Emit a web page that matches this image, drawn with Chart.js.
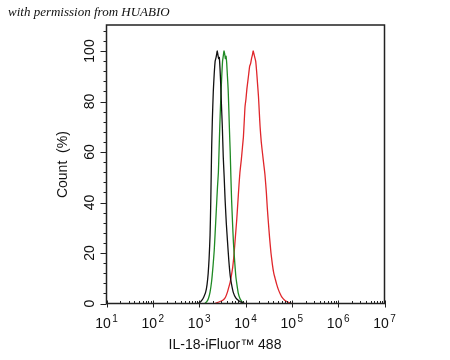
<!DOCTYPE html>
<html>
<head>
<meta charset="utf-8">
<script src="https://cdn.jsdelivr.net/npm/chart.js@4.4.1/dist/chart.umd.min.js"></script>
<style>
  html, body { margin: 0; padding: 0; background: #fff; }
  #wrap { position: relative; width: 450px; height: 360px; }
  #note {
    position: absolute; left: 8px; top: 4px;
    font: italic 13px "Liberation Serif", "DejaVu Serif", serif;
    color: #111;
  }
</style>
</head>
<body>
<div id="wrap">
  <canvas id="chart" width="450" height="360"></canvas>
  <div id="note">with permission from HUABIO</div>
</div>
<script>
// log10 of fluorescence intensity, count in %
const blackLog = [2.97, 3.02, 3.06, 3.10, 3.14, 3.17, 3.195, 3.215, 3.235, 3.25, 3.26, 3.27, 3.285, 3.305, 3.325, 3.345, 3.365, 3.38, 3.39, 3.405, 3.42, 3.435, 3.45, 3.465, 3.48, 3.50, 3.52, 3.54, 3.56, 3.585, 3.61, 3.64, 3.67, 3.70, 3.74, 3.79, 3.85, 3.92, 3.99];
const blackCount = [0, 0.5, 1.3, 2.6, 4.5, 7.5, 12, 18, 27, 40, 51, 62, 73, 84, 91, 96, 97.5, 99, 100, 98.5, 97, 97.5, 93, 87, 79, 70, 58, 50, 41, 32, 25, 17, 11, 7.5, 4.2, 2.2, 1.2, 0.4, 0];

const greenLog = [3.12, 3.16, 3.20, 3.235, 3.27, 3.30, 3.325, 3.345, 3.37, 3.395, 3.415, 3.43, 3.445, 3.46, 3.475, 3.49, 3.505, 3.52, 3.535, 3.55, 3.565, 3.58, 3.595, 3.61, 3.625, 3.64, 3.655, 3.67, 3.685, 3.70, 3.72, 3.74, 3.765, 3.79, 3.815, 3.845, 3.88, 3.92, 3.96];
const greenCount = [0, 0.6, 2, 4.5, 9, 15, 21, 28, 37, 46, 52, 61, 70, 78, 85, 91, 96, 98, 100, 99, 97, 98, 95, 90, 85, 77, 68, 60, 50, 41, 32, 24, 17, 11, 7.5, 4, 2, 0.8, 0];

const redLog = [3.34, 3.41, 3.48, 3.53, 3.57, 3.61, 3.64, 3.67, 3.70, 3.725, 3.75, 3.78, 3.81, 3.835, 3.86, 3.88, 3.91, 3.935, 3.955, 3.975, 3.99, 4.01, 4.03, 4.05, 4.07, 4.09, 4.11, 4.13, 4.15, 4.165, 4.18, 4.20, 4.22, 4.24, 4.26, 4.28, 4.30, 4.315, 4.34, 4.37, 4.395, 4.42, 4.45, 4.47, 4.49, 4.52, 4.55, 4.58, 4.61, 4.645, 4.675, 4.71, 4.75, 4.79, 4.84, 4.89, 4.94, 5.00];
const redCount = [0, 0.5, 1, 1.6, 2.6, 4.5, 6.5, 8.5, 11.5, 14.5, 19, 26, 33, 40, 47, 52, 57, 62, 66, 73, 78, 81, 85, 88, 91, 94, 95, 97, 98.5, 100, 99, 97.5, 96, 92, 87, 82, 75, 70, 64, 59, 55, 51, 44, 38, 33, 26, 20, 15.5, 12, 9.5, 7.5, 5.5, 3.8, 2.4, 1.4, 0.8, 0.4, 0];

const xExponents = [1, 2, 3, 4, 5, 6, 7];
const yTicks = [0, 20, 40, 60, 80, 100];
const xTitle = 'IL-18-iFluor™ 488';
const yTitle = 'Count  (%)';

const colors = {
  black: '#111111',
  green: '#1f8a24',
  red: '#e0262b',
  axis: '#222222',
  text: '#111111'
};

const toPoints = (xs, ys) => xs.map((x, i) => ({ x: x, y: ys[i] }));

const font = (size) => size + 'px "Liberation Sans", Arial, sans-serif';

// draws frame, ticks and labels from the chart's own scales
const axesPlugin = {
  id: 'axesPlugin',
  afterDraw(chart) {
    const ctx = chart.ctx;
    const area = chart.chartArea;
    const xs = chart.scales.x;
    const ys = chart.scales.y;
    ctx.save();

    ctx.strokeStyle = colors.axis;
    ctx.lineWidth = 1.5;
    ctx.strokeRect(area.left, area.top, area.right - area.left, area.bottom - area.top);

    // x ticks, log style
    ctx.lineWidth = 1;
    ctx.beginPath();
    xExponents.forEach((e) => {
      const px = Math.round(xs.getPixelForValue(e)) + 0.5;
      ctx.moveTo(px, area.bottom - 3);
      ctx.lineTo(px, area.bottom + 4);
      if (e < xExponents[xExponents.length - 1]) {
        for (let m = 2; m <= 9; m++) {
          const mx = Math.round(xs.getPixelForValue(e + Math.log10(m))) + 0.5;
          ctx.moveTo(mx, area.bottom - 2.5);
          ctx.lineTo(mx, area.bottom);
        }
      }
    });
    // y ticks
    for (let v = 0; v <= 108; v += 4) {
      const py = Math.round(ys.getPixelForValue(v)) + 0.5;
      const len = v % 20 === 0 ? 6 : 3;
      ctx.moveTo(area.left - len, py);
      ctx.lineTo(area.left, py);
    }
    ctx.stroke();

    ctx.fillStyle = colors.text;
    ctx.textBaseline = 'alphabetic';
    xExponents.forEach((e) => {
      const px = xs.getPixelForValue(e);
      ctx.font = font(14);
      const wBase = ctx.measureText('10').width;
      ctx.font = font(10);
      const wExp = ctx.measureText(String(e)).width;
      const start = px - (wBase + 1.5 + wExp) / 2;
      ctx.font = font(14);
      ctx.textAlign = 'left';
      ctx.fillText('10', start, area.bottom + 24);
      ctx.font = font(10);
      ctx.fillText(String(e), start + wBase + 1.5, area.bottom + 18);
    });

    ctx.font = font(14);
    ctx.textAlign = 'center';
    ctx.textBaseline = 'middle';
    yTicks.forEach((v) => {
      const py = ys.getPixelForValue(v);
      ctx.save();
      ctx.translate(area.left - 16, py);
      ctx.rotate(-Math.PI / 2);
      ctx.fillText(String(v), 0, 0);
      ctx.restore();
    });

    ctx.save();
    ctx.translate(63, ys.getPixelForValue(55));
    ctx.rotate(-Math.PI / 2);
    ctx.fillText(yTitle, 0, 0);
    ctx.restore();

    ctx.fillText(xTitle, 225, area.bottom + 42);
    ctx.restore();
  }
};

new Chart(document.getElementById('chart'), {
  type: 'line',
  data: {
    datasets: [
      { data: toPoints(blackLog, blackCount), borderColor: colors.black },
      { data: toPoints(greenLog, greenCount), borderColor: colors.green },
      { data: toPoints(redLog, redCount), borderColor: colors.red }
    ]
  },
  options: {
    responsive: false,
    animation: false,
    layout: { padding: { left: 106.5, top: 25, right: 65.5, bottom: 56.5 } },
    elements: {
      line: { borderWidth: 1.3, tension: 0.15, fill: false },
      point: { radius: 0 }
    },
    plugins: { legend: { display: false }, tooltip: { enabled: false } },
    scales: {
      x: { type: 'linear', min: 1, max: 7, display: false },
      y: { min: 0, max: 110.3, display: false }
    }
  },
  plugins: [axesPlugin]
});
</script>
</body>
</html>
